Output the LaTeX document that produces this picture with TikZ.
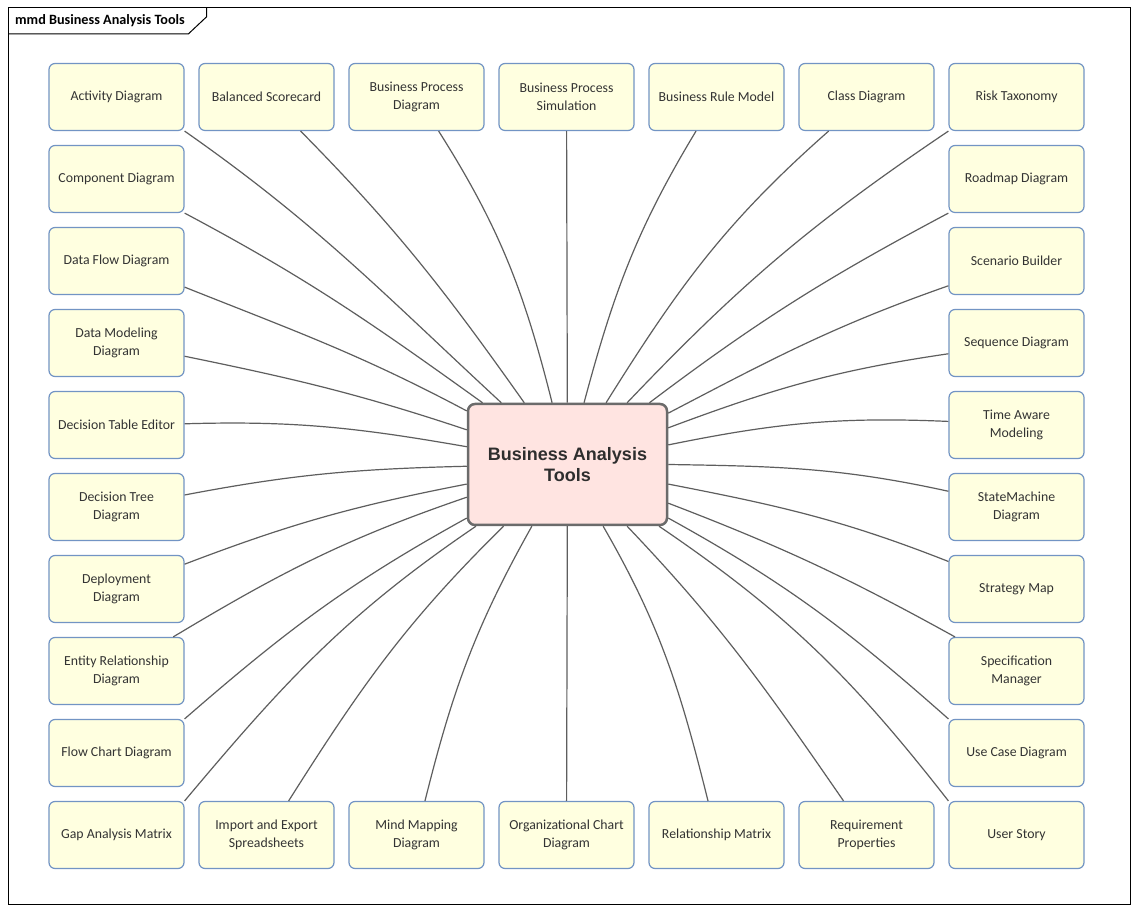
\documentclass[tikz,border=0pt]{standalone}
\usepackage{fontspec}
\setmainfont{Carlito}
\newfontfamily\arialf{Liberation Sans}
\definecolor{boxfill}{HTML}{FFFFE0}
\definecolor{boxborder}{HTML}{7294C4}
\definecolor{hubfill}{HTML}{FFE4E1}
\definecolor{hubborder}{HTML}{6B6B6B}
\definecolor{linec}{HTML}{5E5E5E}
\definecolor{txt}{HTML}{333333}
\begin{document}
\begin{tikzpicture}[x=1pt,y=1pt,
  tool/.style={draw=boxborder, fill=boxfill, line width=1.2pt, rounded corners=6pt,
    minimum width=135pt, minimum height=67pt, inner sep=0pt, align=center,
    font=\fontsize{13.8}{18}\selectfont, text=txt},
  hub/.style={draw=hubborder, fill=hubfill, line width=2.5pt, rounded corners=7pt,
    minimum width=199pt, minimum height=121pt, inner sep=0pt, align=center,
    font=\arialf\bfseries\fontsize{18}{21}\selectfont, text=txt!90!black},
  conn/.style={draw=linec, line width=1.2pt},
  frame/.style={draw=black, line width=1pt}]
\useasboundingbox (0,0) rectangle (1138,913);
\fill[white] (0,0) rectangle (1138,913);
% frame and tab
\draw[frame] (8,8) rectangle (1130.5,905);
\draw[frame] (8,879) -- (188.3,879) -- (206.7,896.3) -- (206.7,905);
\node[anchor=west, inner sep=0pt, font=\bfseries\fontsize{14.2}{16}\selectfont] (title) at (15,892) {mmd Business Analysis Tools};
% hub
\node[hub] (c) at (567.5,448.5) {Business Analysis\\Tools};
% top row
\node[tool] (act) at (116.5,816) {Activity Diagram};
\node[tool] (bsc) at (266.5,816) {Balanced Scorecard};
\node[tool] (bpd) at (416.5,816) {Business Process\\Diagram};
\node[tool] (bps) at (566.5,816) {Business Process\\Simulation};
\node[tool] (brm) at (716.5,816) {Business Rule Model};
\node[tool] (cls) at (866.5,816) {Class Diagram};
\node[tool] (rsk) at (1016.5,816) {Risk Taxonomy};
% left column
\node[tool] (cmp) at (116.5,734) {Component Diagram};
\node[tool] (dfd) at (116.5,652) {Data Flow Diagram};
\node[tool] (dmd) at (116.5,570) {Data Modeling\\Diagram};
\node[tool] (dte) at (116.5,488) {Decision Table Editor};
\node[tool] (dtd) at (116.5,406) {Decision Tree\\Diagram};
\node[tool] (dep) at (116.5,324) {Deployment\\Diagram};
\node[tool] (erd) at (116.5,242) {Entity Relationship\\Diagram};
\node[tool] (fcd) at (116.5,160) {Flow Chart Diagram};
\node[tool] (gap) at (116.5,78) {Gap Analysis Matrix};
% bottom row
\node[tool] (ies) at (266.5,78) {Import and Export\\Spreadsheets};
\node[tool] (mmp) at (416.5,78) {Mind Mapping\\Diagram};
\node[tool] (org) at (566.5,78) {Organizational Chart\\Diagram};
\node[tool] (rel) at (716.5,78) {Relationship Matrix};
\node[tool] (req) at (866.5,78) {Requirement\\Properties};
\node[tool] (ust) at (1016.5,78) {User Story};
% right column
\node[tool] (rmd) at (1016.5,734) {Roadmap Diagram};
\node[tool] (scb) at (1016.5,652) {Scenario Builder};
\node[tool] (seq) at (1016.5,570) {Sequence Diagram};
\node[tool] (tam) at (1016.5,488) {Time Aware\\Modeling};
\node[tool] (smd) at (1016.5,406) {StateMachine\\Diagram};
\node[tool] (stm) at (1016.5,324) {Strategy Map};
\node[tool] (spm) at (1016.5,242) {Specification\\Manager};
\node[tool] (ucd) at (1016.5,160) {Use Case Diagram};
% connectors
\draw[conn] (act.south east) to[out=-35,in=137.2] (c.137.2);
\draw[conn] (bsc.-45.4) to[out=-45.4,in=125.3] (c.125.3);
\draw[conn] (bpd.-57.7) to[out=-57.7,in=104.1] (c.104.1);
\draw[conn] (bps) -- (c);
\draw[conn] (brm.-121.1) to[out=-121.1,in=75] (c.75);
\draw[conn] (cls.-138.6) to[out=-138.6,in=58] (c.58);
\draw[conn] (rsk.south west) to[out=-146,in=46.4] (c.46.4);
\draw[conn] (cmp.south east) to[out=-28,in=144.3] (c.144.3);
\draw[conn] (dfd.-21.7) to[out=-21.7,in=152] (c.152);
\draw[conn] (dmd.-11.6) to[out=-11.6,in=161.6] (c.161.6);
\draw[conn] (dte.1.7) to[out=1.7,in=170.1] (c.170.1);
\draw[conn] (dtd.10.8) to[out=10.8,in=181.4] (c.181.4);
\draw[conn] (dep.20.9) to[out=20.9,in=191] (c.191);
\draw[conn] (erd.31) to[out=31,in=198.9] (c.198.9);
\draw[conn] (fcd.north east) to[out=41,in=208.9] (c.208.9);
\draw[conn] (gap.north east) to[out=50,in=214.2] (c.214.2);
\draw[conn] (ies.57.7) to[out=57.7,in=224.5] (c.224.5);
\draw[conn] (mmp.76) to[out=76,in=240.7] (c.240.7);
\draw[conn] (org) -- (c);
\draw[conn] (rel.104) to[out=104,in=-60] (c.-60);
\draw[conn] (req.124.6) to[out=124.6,in=-46.4] (c.-46.4);
\draw[conn] (ust.north west) to[out=128,in=-34.2] (c.-34.2);
\draw[conn] (rmd.south west) to[out=-152,in=37] (c.37);
\draw[conn] (scb.-160.7) to[out=-160.7,in=27.6] (c.27.6);
\draw[conn] (seq.-171.7) to[out=-171.7,in=20.5] (c.20.5);
\draw[conn] (tam.177.5) to[out=177.5,in=11.5] (c.11.5);
\draw[conn] (smd.167.6) to[out=167.6,in=-0.9] (c.-0.9);
\draw[conn] (stm.158.5) to[out=158.5,in=-11] (c.-11);
\draw[conn] (spm.151.1) to[out=151.1,in=-21] (c.-21);
\draw[conn] (ucd.north west) to[out=138.5,in=-28.9] (c.-28.9);
\end{tikzpicture}
\end{document}
